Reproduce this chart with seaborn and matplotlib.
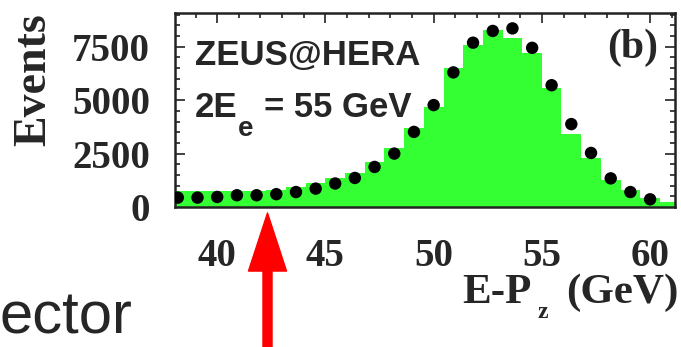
import numpy as np
import pandas as pd
import matplotlib
matplotlib.use('Agg')
import matplotlib.pyplot as plt
import seaborn as sns
from matplotlib.ticker import MultipleLocator

# E-Pz bin centres (GeV)
e_pz = [38.18, 39.09, 40.00, 40.91, 41.82, 42.73, 43.64, 44.55, 45.45, 46.36,
        47.27, 48.18, 49.09, 50.00, 50.91, 51.82, 52.73, 53.64, 54.55, 55.45,
        56.36, 57.27, 58.18, 59.09, 60.00, 60.91]
# green histogram (MC)
mc_events = [750, 750, 750, 750, 760, 780, 940, 1100, 1340, 1575,
             2110, 2750, 3690, 4690, 6490, 7580, 8280, 7900, 7200, 5560,
             3440, 2280, 1250, 780, 400, 230]
# black points (data), last bin has no visible point
data_events = [440, 440, 470, 550, 550, 600, 700, 860, 1100, 1360,
               1875, 2500, 3515, 4770, 6300, 7690, 8240, 8360, 7450, 5700,
               3880, 2530, 1340, 700, 360]

x_ticks = [40, 45, 50, 55, 60]
y_ticks = [0, 2500, 5000, 7500]

W, H = 681, 347


def fx(px):
    return px / W


def fy(py):
    return 1 - py / H


sns.set_style('ticks')
plt.rcParams['font.family'] = ['Liberation Serif', 'DejaVu Serif']
plt.rcParams['font.weight'] = 'bold'

fig = plt.figure(figsize=(W / 100, H / 100), dpi=100)
ax = fig.add_axes([fx(175), fy(207), fx(675) - fx(175), fy(13) - fy(207)])

centres = np.array(e_pz)
width = centres[1] - centres[0]
edges = np.r_[centres - width / 2, centres[-1] + width / 2].tolist()

mc = pd.DataFrame({'epz': e_pz, 'events': mc_events})
sns.histplot(data=mc, x='epz', weights='events', bins=edges, element='step',
             fill=True, color='#33ff33', alpha=1, linewidth=0, ax=ax)
sns.scatterplot(x=e_pz[:len(data_events)], y=data_events, color='black',
                s=80, edgecolor='none', ax=ax, zorder=5)

ax.set_xlim(38.05, 61.15)
ax.set_ylim(0, 9080)
ax.set_xticks(x_ticks)
ax.set_yticks(y_ticks)
ax.xaxis.set_minor_locator(MultipleLocator(1))
ax.yaxis.set_minor_locator(MultipleLocator(500))
ax.set_xlabel('')
ax.set_ylabel('')
ax.tick_params(which='both', direction='in', top=True, right=True,
               width=1.2, color='#222222')
ax.tick_params(which='major', length=7)
ax.tick_params(which='minor', length=3.5)
ax.tick_params(axis='x', which='major', labelsize=28, pad=22)
ax.tick_params(axis='y', which='major', labelsize=28, pad=18)
for lab in ax.get_xticklabels() + ax.get_yticklabels():
    lab.set_fontweight('bold')
for sp in ax.spines.values():
    sp.set_linewidth(1.8)
    sp.set_color('#222222')

# axis titles
fig.text(fx(34), fy(80), 'Events', rotation=90, ha='center', va='center',
         fontsize=33, fontweight='bold')
fig.text(fx(462), fy(303), 'E-P', ha='left', va='baseline',
         fontsize=31, fontweight='bold')
fig.text(fx(537), fy(318), 'z', ha='left', va='baseline',
         fontsize=17, fontweight='bold')
fig.text(fx(678), fy(303), '(GeV)', ha='right', va='baseline',
         fontsize=31, fontweight='bold')

# labels inside the plot
sans = ['Liberation Sans', 'DejaVu Sans']
fig.text(fx(195), fy(65), 'ZEUS@HERA', ha='left', va='baseline',
         fontsize=25, fontweight='bold', family=sans)
fig.text(fx(195), fy(117), '2E', ha='left', va='baseline',
         fontsize=25, fontweight='bold', family=sans)
fig.text(fx(238), fy(136), 'e', ha='left', va='baseline',
         fontsize=20, fontweight='bold', family=sans)
fig.text(fx(412), fy(117), '= 55 GeV', ha='right', va='baseline',
         fontsize=25, fontweight='bold', family=sans)
fig.text(fx(658), fy(58), '(b)', ha='right', va='baseline',
         fontsize=30, fontweight='bold')

# slide text and arrow around the plot
fig.text(fx(0), fy(333), 'ector', ha='left', va='baseline',
         fontsize=43, family=sans, fontweight='normal')
ax.annotate('', xy=(267.5, H - 213), xytext=(267.5, -5),
            xycoords='figure pixels', textcoords='figure pixels',
            annotation_clip=False,
            arrowprops=dict(arrowstyle='simple,head_length=41.8,head_width=27.4,tail_width=6.5',
                            mutation_scale=1, color='#ff0000', shrinkA=0, shrinkB=0))

fig.savefig('out.png', dpi=100)
